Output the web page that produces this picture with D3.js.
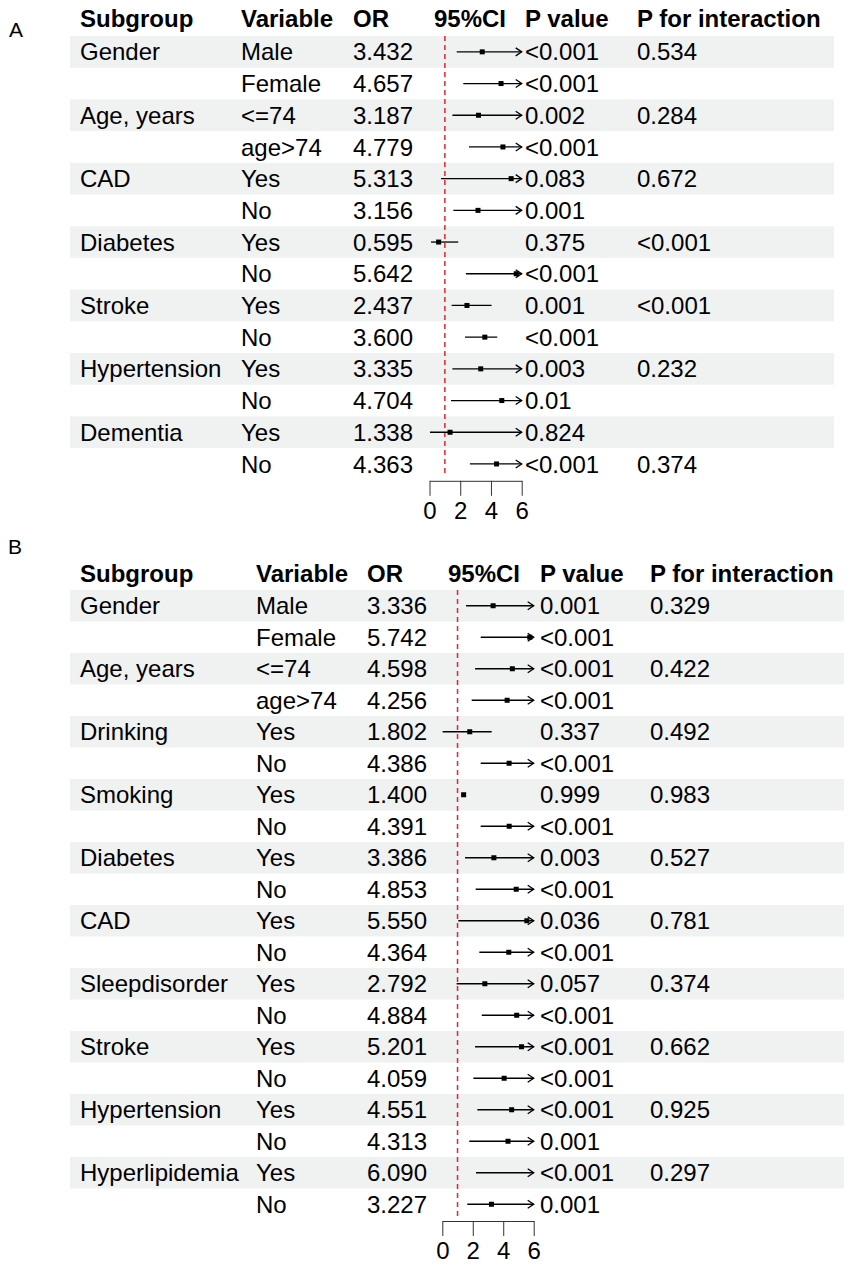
<!DOCTYPE html>
<html>
<head>
<meta charset="utf-8">
<script src="https://cdn.jsdelivr.net/npm/d3@7"></script>
<style>
  body { margin: 0; background: #fff; }
  svg { font-family: "Liberation Sans", Arial, Helvetica, sans-serif; }
</style>
</head>
<body>
<svg id="chart" width="851" height="1267"></svg>
<script>
// ---- panel A data ----
const subgroupsA = ['Gender', '', 'Age, years', '', 'CAD', '', 'Diabetes', '', 'Stroke', '', 'Hypertension', '', 'Dementia', '']
const variablesA = ['Male', 'Female', '<=74', 'age>74', 'Yes', 'No', 'Yes', 'No', 'Yes', 'No', 'Yes', 'No', 'Yes', 'No']
const orA = [3.432, 4.657, 3.187, 4.779, 5.313, 3.156, 0.595, 5.642, 2.437, 3.600, 3.335, 4.704, 1.338, 4.363]
const lowerA = [1.77, 2.20, 1.49, 2.57, 0.75, 1.55, 0.10, 2.37, 1.44, 2.31, 1.49, 1.40, 0.03, 2.63]
const upperA = [6.65, 9.86, 6.82, 8.89, 37.6, 6.43, 1.87, 13.4, 4.04, 4.41, 7.46, 15.8, 59.7, 7.24]
const pA = ['<0.001', '<0.001', '0.002', '<0.001', '0.083', '0.001', '0.375', '<0.001', '0.001', '<0.001', '0.003', '0.01', '0.824', '<0.001']
const pIntA = ['0.534', '', '0.284', '', '0.672', '', '<0.001', '', '<0.001', '', '0.232', '', '', '0.374']

// ---- panel B data ----
const subgroupsB = ['Gender', '', 'Age, years', '', 'Drinking', '', 'Smoking', '', 'Diabetes', '', 'CAD', '', 'Sleepdisorder', '', 'Stroke', '', 'Hypertension', '', 'Hyperlipidemia', '']
const variablesB = ['Male', 'Female', '<=74', 'age>74', 'Yes', 'No', 'Yes', 'No', 'Yes', 'No', 'Yes', 'No', 'Yes', 'No', 'Yes', 'No', 'Yes', 'No', 'Yes', 'No']
const orB = [3.336, 5.742, 4.598, 4.256, 1.802, 4.386, 1.400, 4.391, 3.386, 4.853, 5.550, 4.364, 2.792, 4.884, 5.201, 4.059, 4.551, 4.313, 6.090, 3.227]
const lowerB = [1.56, 2.52, 2.15, 1.93, 0.02, 2.52, null, 2.52, 1.49, 2.19, 1.05, 2.43, 0.94, 2.59, 2.15, 2.04, 2.30, 1.77, 2.21, 1.64]
const upperB = [7.13, 13.1, 9.83, 9.38, 3.24, 7.63, null, 7.65, 7.69, 10.75, 29.3, 7.84, 8.29, 9.21, 12.58, 8.08, 9.00, 10.5, 16.8, 6.35]
const pB = ['0.001', '<0.001', '<0.001', '<0.001', '0.337', '<0.001', '0.999', '<0.001', '0.003', '<0.001', '0.036', '<0.001', '0.057', '<0.001', '<0.001', '<0.001', '<0.001', '0.001', '<0.001', '0.001']
const pIntB = ['0.329', '', '0.422', '', '0.492', '', '0.983', '', '0.527', '', '0.781', '', '0.374', '', '0.662', '', '0.925', '', '0.297', '']

const headers = ['Subgroup', 'Variable', 'OR', '95%CI', 'P value', 'P for interaction']
const axisTicks = [0, 2, 4, 6]

const svg = d3.select('#chart')
const fs = 24
const fmt = d3.format('.3f')

function drawPanel (p) {
  const n = p.or.length
  const g = svg.append('g')

  // panel letter
  g.append('text')
    .attr('x', p.labelX).attr('y', p.labelY)
    .style('font-size', '21px')
    .text(p.label)

  const y = d3.scaleBand()
    .domain(d3.range(n))
    .range([p.top, p.top + n * p.rowH])
  const x = d3.scaleLinear().domain([0, 6]).range(p.xRange)

  // striped rows
  g.selectAll('rect.band')
    .data(d3.range(n).filter(i => i % 2 === 0))
    .enter().append('rect')
    .attr('x', p.bandX0)
    .attr('width', p.bandX1 - p.bandX0)
    .attr('y', i => y(i))
    .attr('height', y.bandwidth())
    .attr('fill', '#f0f1f1')

  // header
  g.selectAll('text.head')
    .data(headers)
    .enter().append('text')
    .attr('x', (d, i) => p.cols[i])
    .attr('y', p.headY + fs * 0.36)
    .style('font-size', fs + 'px')
    .style('font-weight', 'bold')
    .text(d => d)

  const mid = i => y(i) + y.bandwidth() / 2
  const cols = [
    [p.subgroups, 0],
    [p.variables, 1],
    [p.or.map(fmt), 2],
    [p.pval, 4],
    [p.pint, 5]
  ]
  cols.forEach(([arr, c]) => {
    g.selectAll(null)
      .data(arr)
      .enter().append('text')
      .attr('x', p.cols[c])
      .attr('y', (d, i) => mid(i) + fs * 0.36)
      .style('font-size', fs + 'px')
      .text(d => d)
  })

  // reference line at OR = 1
  g.append('line')
    .attr('x1', x(1)).attr('x2', x(1))
    .attr('y1', p.top).attr('y2', p.top + n * p.rowH - 4)
    .attr('stroke', '#e0262b')
    .attr('stroke-width', 1.5)
    .attr('stroke-dasharray', '5,4')

  // CI lines + arrows
  const xmax = x.domain()[1]
  d3.range(n).forEach(i => {
    const lo = p.lower[i]
    const hi = p.upper[i]
    const cy = mid(i)
    if (lo != null && hi != null) {
      const x0 = x(Math.max(lo, 0))
      const x1 = x(Math.min(hi, xmax))
      g.append('line')
        .attr('x1', x0).attr('x2', x1)
        .attr('y1', cy).attr('y2', cy)
        .attr('stroke', '#000').attr('stroke-width', 1.3)
      if (hi > xmax) {
        g.append('path')
          .attr('d', `M${x1 - 6},${cy - 4}L${x1},${cy}L${x1 - 6},${cy + 4}`)
          .attr('fill', 'none')
          .attr('stroke', '#000').attr('stroke-width', 1.3)
      }
    }
    if (p.or[i] <= xmax) {
      g.append('rect')
        .attr('x', x(p.or[i]) - 2.5).attr('y', cy - 2.5)
        .attr('width', 5).attr('height', 5)
        .attr('fill', '#000')
    }
  })

  // x axis
  const axis = d3.axisBottom(x)
    .tickValues(axisTicks)
    .tickFormat(d3.format('d'))
    .tickSize(15)
    .tickSizeOuter(0)
    .tickPadding(6)
  const ax = g.append('g')
    .attr('transform', `translate(0,${p.top + n * p.rowH + 1})`)
    .call(axis)
  ax.attr('font-size', 24).attr('font-family', '"Liberation Sans", Arial, sans-serif')
  ax.select('.domain').attr('stroke', '#333')
  ax.selectAll('.tick line').attr('stroke', '#333')
  ax.selectAll('.tick text').attr('fill', '#000')
}

drawPanel({
  label: 'A', labelX: 9, labelY: 37,
  subgroups: subgroupsA, variables: variablesA, or: orA,
  lower: lowerA, upper: upperA, pval: pA, pint: pIntA,
  top: 36, rowH: 31.7, headY: 18,
  cols: [80, 241, 353, 434, 525, 637],
  xRange: [429.5, 521.7],
  bandX0: 70, bandX1: 834
})

drawPanel({
  label: 'B', labelX: 8, labelY: 554,
  subgroups: subgroupsB, variables: variablesB, or: orB,
  lower: lowerB, upper: upperB, pval: pB, pint: pIntB,
  top: 590, rowH: 31.5, headY: 573,
  cols: [80, 256, 367, 448, 540, 650],
  xRange: [442.3, 533.7],
  bandX0: 70, bandX1: 844
})
</script>
</body>
</html>
